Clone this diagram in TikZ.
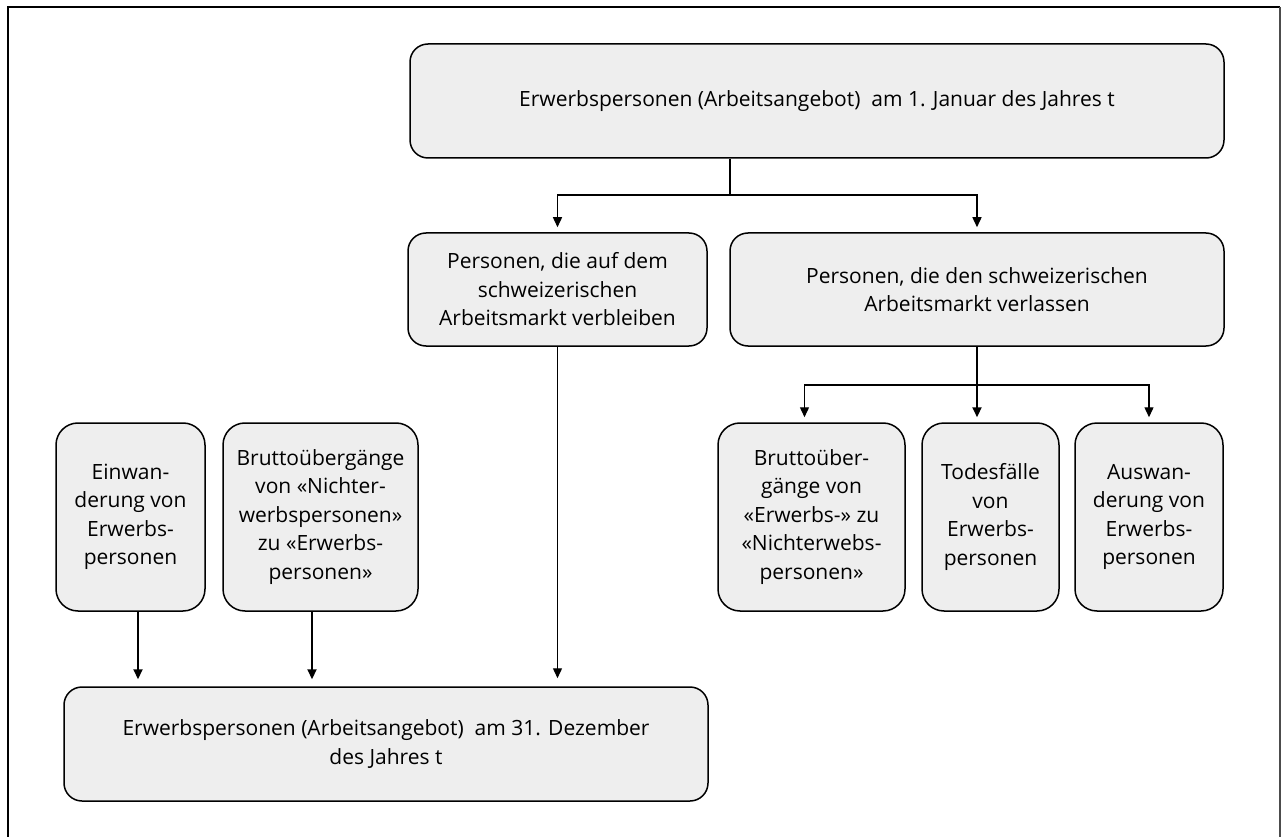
\documentclass[tikz,border=0pt]{standalone}
\usepackage{fontspec}
\setmainfont{Open Sans}
\usetikzlibrary{arrows.meta}
\begin{document}
\begin{tikzpicture}[x=1pt,y=-1pt,
  box/.style={draw=black, line width=1.5pt, fill=boxgray, rounded corners=18pt,
    align=center, inner sep=0pt, font=\fontsize{21}{28.5}\selectfont},
  conn/.style={line width=1.4pt},
  arr/.style={line width=1.4pt, -{Triangle[length=10pt,width=9pt]}, shorten >=5pt},
  thick arr/.style={line width=2.2pt, -{Triangle[length=10pt,width=9pt]}, shorten >=7pt}]
\definecolor{boxgray}{HTML}{EEEEEE}
\useasboundingbox (0,0) rectangle (1286,837);
% frame
\draw[line width=2.6pt] (8,840) -- (8,7) -- (1280,7);
\draw[line width=1.4pt, black!70] (1280,7) -- (1280,840);
% nodes
\node[box, minimum width=814pt, minimum height=114pt] (top) at (817,101)
  {Erwerbspersonen (Arbeitsangebot)\ \ am 1. Januar des Jahres t};
\node[box, minimum width=299pt, minimum height=113pt] (stay) at (557.5,289.5)
  {Personen, die auf dem\\schweizerischen\\Arbeitsmarkt verbleiben};
\node[box, minimum width=494pt, minimum height=113pt] (leave) at (977,289.5)
  {Personen, die den schweizerischen\\Arbeitsmarkt verlassen};
\node[box, rounded corners=22pt, minimum width=149pt, minimum height=188pt] (ein) at (130.5,517)
  {Einwan-\\derung von\\Erwerbs-\\personen};
\node[box, rounded corners=22pt, minimum width=195pt, minimum height=188pt] (bin) at (320.5,517)
  {Bruttoübergänge\\von «Nichter-\\werbspersonen»\\zu «Erwerbs-\\personen»};
\node[box, rounded corners=22pt, minimum width=187pt, minimum height=188pt] (bout) at (811.5,517)
  {Bruttoüber-\\gänge von\\«Erwerbs-» zu\\«Nichterwebs-\\personen»};
\node[box, rounded corners=22pt, minimum width=137pt, minimum height=188pt] (death) at (990.5,517)
  {Todesfälle\\von\\Erwerbs-\\personen};
\node[box, rounded corners=22pt, minimum width=148pt, minimum height=188pt] (emi) at (1149,517)
  {Auswan-\\derung von\\Erwerbs-\\personen};
\node[box, minimum width=644pt, minimum height=114pt] (end) at (386,744)
  {Erwerbspersonen (Arbeitsangebot)\ \ am 31. Dezember\\des Jahres t};
% connectors
\coordinate (j1) at (730,195);
\coordinate (j2) at (977,385);
\draw[conn] (top.south -| j1) -- (j1);
\draw[arr] (j1) -| (stay.north);
\draw[arr] (j1) -| (leave.north);
\draw[line width=2.2pt] (leave.south) -- (j2);
\draw[arr] (j2) -| ([xshift=-7pt]bout.north);
\draw[arr] (j2) -| (emi.north);
\draw[thick arr, shorten >=5pt] (j2) -- (j2 |- death.north);
\draw[thick arr] ([xshift=7.5pt]ein.south) -- ([xshift=7.5pt]ein.south |- end.north);
\draw[thick arr] ([xshift=-8.5pt]bin.south) -- ([xshift=-8.5pt]bin.south |- end.north);
\draw[arr, shorten >=8pt] (stay.south) -- (stay.south |- end.north);
\end{tikzpicture}
\end{document}
